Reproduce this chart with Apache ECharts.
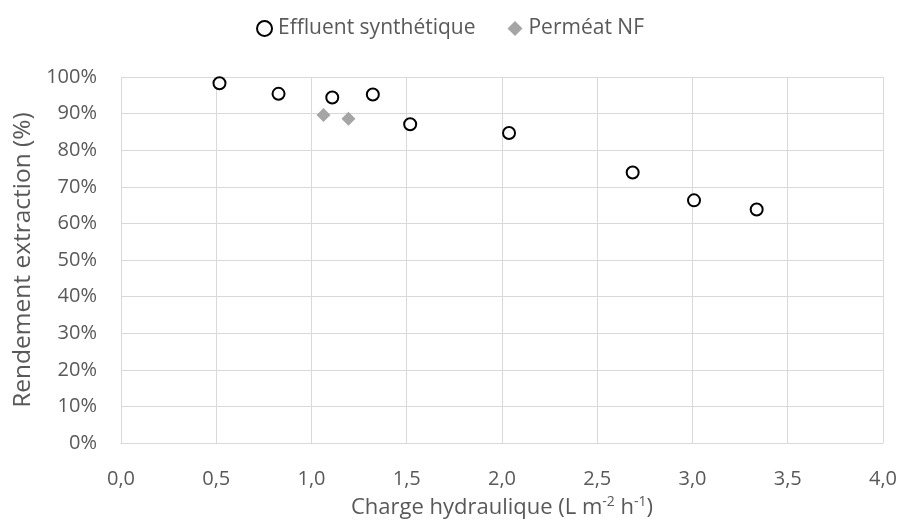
<!DOCTYPE html>
<html><head><meta charset="utf-8">
<script src="https://cdn.jsdelivr.net/npm/echarts@6/dist/echarts.min.js"></script>
<style>html,body{margin:0;padding:0;background:#fff}#c{width:900px;height:524px}</style>
</head><body><div id="c"></div>
<script>
const effluentX = [0.517, 0.827, 1.109, 1.322, 1.518, 2.037, 2.686, 3.008, 3.337];
const effluentY = [98.3, 95.4, 94.4, 95.2, 87.1, 84.7, 73.9, 66.3, 63.8];
const permeatX = [1.063, 1.194];
const permeatY = [89.6, 88.6];
const seriesNames = ['Effluent synthétique', 'Perméat NF'];

const font = '"Open Sans", "Noto Sans", sans-serif';
const txt = '#595959';
const chart = echarts.init(document.getElementById('c'));
chart.setOption({
  animation: false,
  textStyle: { fontFamily: font },
  legend: {
    top: 13, left: 'center', itemGap: 32, itemWidth: 15, itemHeight: 15,
    textStyle: { color: txt, fontSize: 21, fontFamily: font, padding: [0, 0, 0, 1] },
    data: [
      { name: seriesNames[0], icon: 'circle', itemStyle: { color: '#fff', borderColor: '#000', borderWidth: 2 } },
      { name: seriesNames[1], icon: 'diamond', itemStyle: { color: '#a5a5a5' } }
    ]
  },
  grid: { left: 121, right: 17, top: 77, bottom: 80 },
  xAxis: {
    type: 'value', min: 0, max: 4, interval: 0.5,
    name: 'Charge hydraulique (L m{s|-2} h{s|-1})',
    nameLocation: 'middle', nameGap: 52,
    nameTextStyle: { color: txt, fontSize: 22, fontFamily: font,
      rich: { s: { fontSize: 14, verticalAlign: 'top', padding: [0,0,12,0], color: txt, fontFamily: font } } },
    axisLine: { show: true, lineStyle: { color: '#d9d9d9', width: 1 } },
    axisTick: { show: false },
    splitLine: { show: true, lineStyle: { color: '#d9d9d9', width: 1 } },
    axisLabel: { color: txt, fontSize: 20, margin: 26, fontFamily: font,
      formatter: v => v.toFixed(1).replace('.', ',') }
  },
  yAxis: {
    type: 'value', min: 0, max: 100, interval: 10,
    name: 'Rendement extraction (%)',
    nameLocation: 'middle', nameGap: 78, nameRotate: 90,
    nameTextStyle: { color: txt, fontSize: 24.5, fontFamily: font },
    axisLine: { show: false },
    axisTick: { show: false },
    splitLine: { show: true, lineStyle: { color: '#d9d9d9', width: 1 } },
    axisLabel: { color: txt, fontSize: 20, margin: 24, fontFamily: font, formatter: v => v + '%' }
  },
  series: [
    { name: seriesNames[0], type: 'scatter', symbol: 'circle', symbolSize: 12,
      itemStyle: { color: '#fff', borderColor: '#000', borderWidth: 2, opacity: 1 },
      data: effluentX.map((x, i) => [x, effluentY[i]]) },
    { name: seriesNames[1], type: 'scatter', symbol: 'diamond', symbolSize: 14,
      itemStyle: { color: '#a5a5a5', opacity: 1 },
      data: permeatX.map((x, i) => [x, permeatY[i]]) }
  ]
});
</script></body></html>
